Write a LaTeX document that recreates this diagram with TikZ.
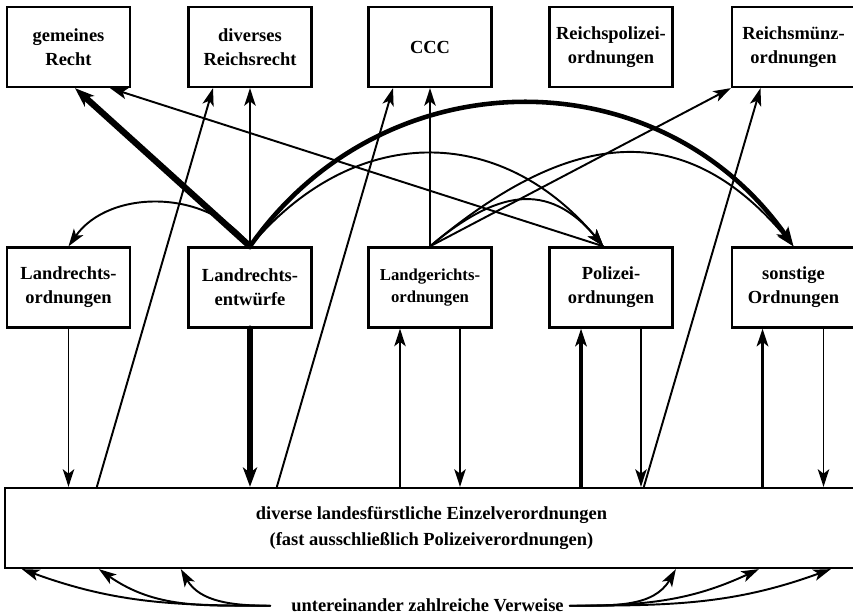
\documentclass[tikz,border=0pt]{standalone}
\usepackage{fontspec}
\setmainfont{Liberation Serif}
\usetikzlibrary{arrows.meta,calc}

\begin{document}
\begin{tikzpicture}[line cap=round]
  % Styles
  \tikzset{
    box/.style={draw,line width=1.3pt,minimum width=2.46cm,minimum height=1.6cm,
      inner xsep=1pt,align=center,font=\fontsize{10.5}{13.5}\selectfont\bfseries},
    link/.style={line width=1.1pt,-{Stealth[length=10pt,width=6.5pt,inset=2.5pt]}},
    strong/.style={link,line width=2.2pt},
    heavy/.style={line width=2.6pt,-{Stealth[length=11pt,width=8pt,inset=3pt]}},
    massive/.style={heavy,line width=3.6pt}
  }
  \useasboundingbox (0,0) rectangle (17.06,12.28);

  % Upper row
  \node[box] (gr) at (1.37,11.34) {gemeines\\Recht};
  \node[box] (drr) at (5.0,11.34) {diverses\\Reichsrecht};
  \node[box] (ccc) at (8.6,11.34) {CCC};
  \node[box] (rpo) at (12.22,11.34) {Reichspolizei-\\ordnungen};
  \node[box] (rmo) at (15.87,11.34) {Reichsmünz-\\ordnungen};

  % Middle row
  \node[box] (lro) at (1.37,6.53) {Landrechts-\\ordnungen};
  \node[box] (lre) at (5.0,6.53) {Landrechts-\\entwürfe};
  \node[box,font=\fontsize{9.5}{12.5}\selectfont\bfseries] (lgo) at (8.6,6.53) {Landgerichts-\\ordnungen};
  \node[box] (po) at (12.22,6.53) {Polizei-\\ordnungen};
  \node[box] (so) at (15.87,6.53) {sonstige\\Ordnungen};

  % Single ordinances
  \node[box,minimum width=17.06cm,font=\fontsize{10.5}{15}\selectfont\bfseries] (base) at (8.63,1.72)
    {diverse landesfürstliche Einzelverordnungen\\(fast ausschließlich Polizeiverordnungen)};
  \node[font=\fontsize{10.5}{13}\selectfont\bfseries,anchor=base] (refs) at (8.55,0.04)
    {untereinander zahlreiche Verweise};

  % References upwards
  \draw[massive] (lre.north) -- ([xshift=0.13cm]gr.south);
  \draw[link] (lre.north) -- (drr.south);
  \draw[link] (lre.north) to[bend right=55] (lro.north);
  \draw[heavy] (lre.north) to[out=55,in=125,looseness=1.1] (so.north);
  \draw[link] (lre.north) to[out=50,in=130,looseness=1.17] ([xshift=-0.15cm]po.north);
  \draw[link] ([xshift=-0.15cm]po.north) -- ([xshift=0.83cm]gr.south);
  \draw[link] (lgo.north) -- (ccc.south);
  \draw[link] (lgo.north) -- (rmo.south west);
  \draw[link] (lgo.north) to[out=40,in=130,looseness=1.24] (so.north);
  \draw[link] (lgo.north) to[out=40,in=130,looseness=1.28] ([xshift=-0.15cm]po.north);

  % Between rows and ordinances
  \draw[link] (lro.south) -- (lro.south |- base.north);
  \draw[massive] (lre.south) -- (lre.south |- base.north);
  \draw[link] ([xshift=-0.6cm]lgo.south |- base.north) -- ([xshift=-0.6cm]lgo.south);
  \draw[link] ([xshift=0.6cm]lgo.south) -- ([xshift=0.6cm]lgo.south |- base.north);
  \draw[strong] ([xshift=-0.6cm]po.south |- base.north) -- ([xshift=-0.6cm]po.south);
  \draw[link] ([xshift=0.6cm]po.south) -- ([xshift=0.6cm]po.south |- base.north);
  \draw[strong] ([xshift=-0.62cm]so.south |- base.north) -- ([xshift=-0.62cm]so.south);
  \draw[link] ([xshift=0.6cm]so.south) -- ([xshift=0.6cm]so.south |- base.north);
  \draw[link] ([xshift=1.86cm]base.north west) -- ([xshift=-0.74cm]drr.south);
  \draw[link] ([xshift=5.46cm]base.north west) -- ([xshift=-0.74cm]ccc.south);
  \draw[link] ([xshift=12.8cm]base.north west) -- ([xshift=-0.66cm]rmo.south);

  % Mutual references
  \draw[link] ([xshift=-0.3cm]refs.west) to[out=180,in=-20] ([xshift=0.36cm]base.south west);
  \draw[link] ([xshift=-0.3cm]refs.west) to[out=180,in=-35] ([xshift=1.9cm]base.south west);
  \draw[link] ([xshift=-0.3cm]refs.west) to[out=180,in=-60] ([xshift=3.54cm]base.south west);
  \draw[link] (refs.east) to[out=0,in=-120] ([xshift=13.44cm]base.south west);
  \draw[link] (refs.east) to[out=0,in=-155] ([xshift=15.1cm]base.south west);
  \draw[link] (refs.east) to[out=0,in=-160] ([xshift=16.54cm]base.south west);
\end{tikzpicture}
\end{document}
